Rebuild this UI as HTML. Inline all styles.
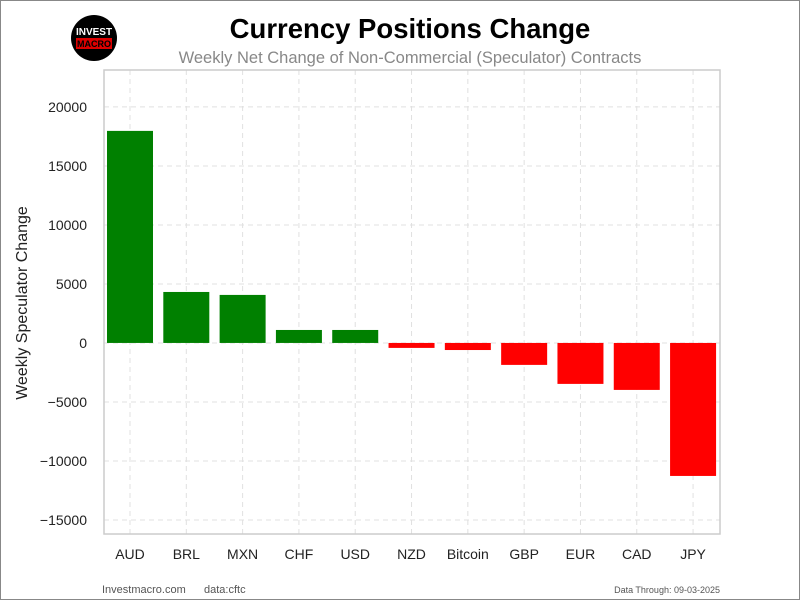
<!DOCTYPE html>
<html><head><meta charset="utf-8"><style>
body{margin:0;background:#fff;}
#wrap{position:relative;width:798px;height:598px;border:1px solid #888;font-family:"Liberation Sans",sans-serif;overflow:hidden;}
</style></head><body>
<div id="wrap">
<svg id="chart" width="798" height="598" xmlns="http://www.w3.org/2000/svg">
<g>
<circle cx="93" cy="37" r="23" fill="#000"/>
<text x="93" y="34" font-size="10" font-weight="bold" fill="#fff" text-anchor="middle" font-family="Liberation Sans, sans-serif">INVEST</text>
<rect x="75" y="37" width="36" height="11" fill="#d00"/>
<text x="93" y="46" font-size="9" font-weight="bold" fill="#000" text-anchor="middle" font-family="Liberation Sans, sans-serif">MACRO</text>
</g>
<text x="409" y="37" font-size="27.5" font-weight="bold" text-anchor="middle" fill="#000">Currency Positions Change</text>
<text x="409" y="62" font-size="16.5" text-anchor="middle" fill="#888">Weekly Net Change of Non-Commercial (Speculator) Contracts</text>
<g id="grid"></g>
<g id="bars"></g>
<g id="axes"></g>
<text transform="translate(26,302) rotate(-90)" font-size="16" text-anchor="middle" fill="#222">Weekly Speculator Change</text>
<text x="101" y="592" font-size="11" fill="#555">Investmacro.com</text>
<text x="203" y="592" font-size="11" fill="#555">data:cftc</text>
<text x="719" y="592" font-size="9" fill="#555" text-anchor="end">Data Through: 09-03-2025</text>
</svg>
</div>
<script>
const categories=["AUD","BRL","MXN","CHF","USD","NZD","Bitcoin","GBP","EUR","CAD","JPY"];
const values=[17970,4320,4070,1100,1100,-420,-600,-1860,-3470,-3980,-11270];
const yTicks=[20000,15000,10000,5000,0,-5000,-10000,-15000];
const NS="http://www.w3.org/2000/svg";
const L=103,R=719,T=69,B=533,yMin=-16190,yMax=23130;
const step=(R-L)/10.94;
const y=v=>B-(v-yMin)/(yMax-yMin)*(B-T);
const xc=i=>L+26+i*step;
function el(tag,attrs,parent,text){const e=document.createElementNS(NS,tag);for(const k in attrs)e.setAttribute(k,attrs[k]);if(text!==undefined)e.textContent=text;parent.appendChild(e);return e;}
const grid=document.getElementById('grid'),bars=document.getElementById('bars'),axes=document.getElementById('axes');
yTicks.forEach(t=>{
 const g=el('line',{x1:L,x2:R,y1:y(t),y2:y(t),stroke:'#e0e0e0','stroke-dasharray':'5,4'},grid);
 
 
 const tx=el('text',{x:L-17,y:y(t)+5,'font-size':14,'text-anchor':'end',fill:'#222'},axes,String(t).replace('-','\u2212'));
 
 
});
categories.forEach((c,i)=>{
 const g=el('line',{x1:xc(i),x2:xc(i),y1:T,y2:B,stroke:'#e0e0e0','stroke-dasharray':'5,4'},grid);
 
 
 const v=values[i],w=46;
 const r=el('rect',{x:xc(i)-w/2,y:Math.min(y(v),y(0)),width:w,height:Math.abs(y(v)-y(0)),fill:v>=0?'#008000':'#ff0000'},bars);
 
 
 const tx=el('text',{x:xc(i),y:B+25,'font-size':14,'text-anchor':'middle',fill:'#222'},axes,c);
 
 
});
const fr=el('rect',{x:L,y:T,width:R-L,height:B-T,fill:'none',stroke:'#ccc','stroke-width':1.5},axes);


</script>
</body></html>
